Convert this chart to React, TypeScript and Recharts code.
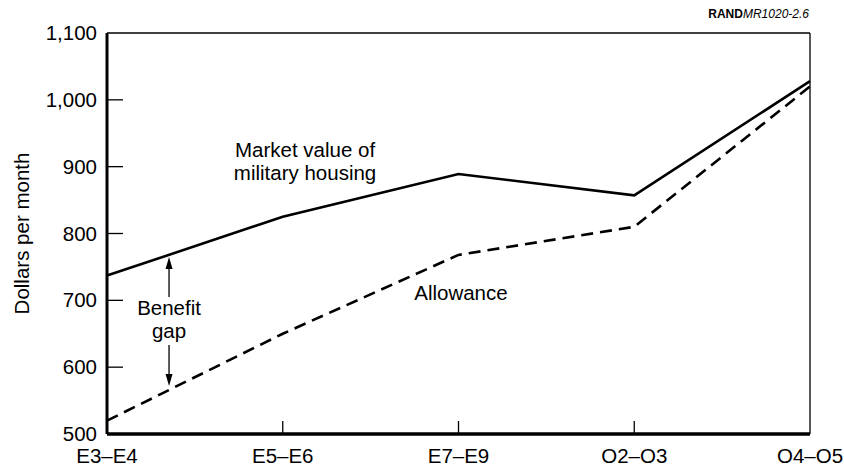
import React from 'react';
import { LineChart, Line, XAxis, YAxis, ReferenceLine, ReferenceDot } from 'recharts';

const categories = ['E3\u2013E4', 'E5\u2013E6', 'E7\u2013E9', 'O2\u2013O3', 'O4\u2013O5'];
const marketValue = [737, 825, 889, 857, 1028];
const allowance = [520, 650, 768, 810, 1020];
const yTicks = [500, 600, 700, 800, 900, 1000, 1100];
const xTicks = [0, 1, 2, 3, 4];

const data = categories.map((c, i) => ({ idx: i, name: c, market: marketValue[i], allowance: allowance[i] }));

const FONT = '"Liberation Sans", Arial, Helvetica, sans-serif';
const FS = 20.5;

const YTick = (props: any) => {
  const { x, y, payload } = props;
  const label = payload.value >= 1000 ? payload.value.toLocaleString('en-US') : String(payload.value);
  const showLine = payload.value !== 500 && payload.value !== 1100;
  return (
    <g>
      {showLine && <line x1={x} y1={y} x2={x + 16} y2={y} stroke="#000" strokeWidth={1.3} />}
      <text x={x - 10} y={y + 7} textAnchor="end" fontFamily={FONT} fontSize={FS} fill="#000">{label}</text>
    </g>
  );
};

const XTick = (props: any) => {
  const { x, y, payload, index } = props;
  const showLine = index > 0 && index < categories.length - 1;
  return (
    <g>
      {showLine && <line x1={x} y1={y} x2={x} y2={y - 13} stroke="#000" strokeWidth={1.3} />}
      <text x={x} y={y + 29} textAnchor="middle" fontFamily={FONT} fontSize={FS} fill="#000">{categories[payload.value]}</text>
    </g>
  );
};

const Arrow = (props: any) => {
  const { x1, y1, x2, y2 } = props;
  const dir = y2 < y1 ? 1 : -1;
  const head = 12;
  return (
    <g>
      <line x1={x1} y1={y1} x2={x2} y2={y2 + dir * head} stroke="#000" strokeWidth={1.3} />
      <polygon points={`${x2},${y2} ${x2 - 3.5},${y2 + dir * head} ${x2 + 3.5},${y2 + dir * head}`} fill="#000" />
    </g>
  );
};

const textShape = (lines: string[]) => (p: any) => (
  <text x={p.cx} y={p.cy} textAnchor="middle" fontFamily={FONT} fontSize={FS} fill="#000">
    {lines.map((l, i) => (
      <tspan key={i} x={p.cx} dy={i === 0 ? 0 : 23}>{l}</tspan>
    ))}
  </text>
);

export default function App() {
  return (
    <div style={{ position: 'absolute', left: 0, top: 0, width: 844, height: 467, background: '#fff' }}>
      <LineChart width={844} height={467} data={data} margin={{ top: 33, right: 34, bottom: 3, left: 47 }}>
        <text x={809} y={18} textAnchor="end" fontFamily={FONT} fontSize={12} fill="#000">
          <tspan fontWeight="bold">RAND</tspan>
          <tspan fontStyle="italic">MR1020-2.6</tspan>
        </text>
        <XAxis
          dataKey="idx"
          type="number"
          domain={[0, 4]}
          ticks={xTicks}
          height={30}
          tickSize={0}
          tickMargin={0}
          tickLine={false}
          axisLine={{ stroke: '#000', strokeWidth: 3.5 }}
          tick={<XTick />}
          interval={0}
        />
        <YAxis
          type="number"
          domain={[500, 1100]}
          ticks={yTicks}
          width={60}
          tickSize={0}
          tickMargin={0}
          tickLine={false}
          axisLine={{ stroke: '#000', strokeWidth: 3 }}
          tick={<YTick />}
          interval={0}
          label={{
            content: (p: any) => {
              const vb = p.viewBox;
              const cy = vb.y + vb.height / 2;
              return (
                <text x={29} y={cy} transform={`rotate(-90, 29, ${cy})`} textAnchor="middle" fontFamily={FONT} fontSize={FS} fill="#000">
                  Dollars per month
                </text>
              );
            },
          }}
        />
        <ReferenceLine y={1100} stroke="#000" strokeWidth={1.3} />
        <ReferenceLine x={4} stroke="#000" strokeWidth={1.3} />
        <Line type="linear" dataKey="market" stroke="#000" strokeWidth={2.6} dot={false} isAnimationActive={false} />
        <Line type="linear" dataKey="allowance" stroke="#000" strokeWidth={2.6} strokeDasharray="12 7" dot={false} isAnimationActive={false} />
        <ReferenceDot x={1.127} y={914} r={0} shape={textShape(['Market value of', 'military housing'])} />
        <ReferenceDot x={2.014} y={700} r={0} shape={textShape(['Allowance'])} />
        <ReferenceDot x={0.353} y={678} r={0} shape={textShape(['Benefit', 'gap'])} />
        <ReferenceLine segment={[{ x: 0.353, y: 705 }, { x: 0.353, y: 765 }]} shape={<Arrow />} />
        <ReferenceLine segment={[{ x: 0.353, y: 633 }, { x: 0.353, y: 572 }]} shape={<Arrow />} />
      </LineChart>
    </div>
  );
}
